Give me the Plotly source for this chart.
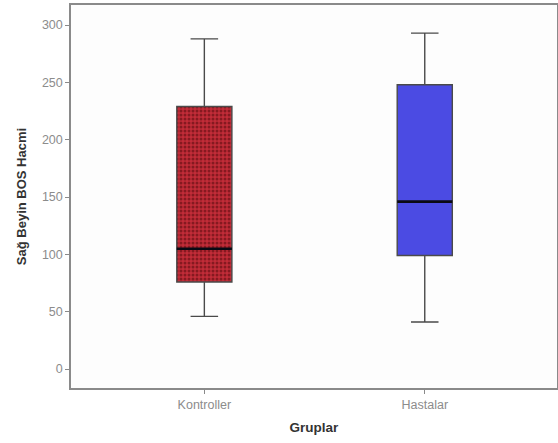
import plotly.graph_objects as go

groups = ["Kontroller", "Hastalar"]
q1 = [76, 99]
median = [105, 146]
q3 = [229, 248]
lower = [46, 41]
upper = [288, 293]
fills = ["#a8202c", "#4b4be3"]

xpos = list(range(len(groups)))
bw = 0.25

fig = go.Figure()

for i, g in enumerate(groups):
    if i == 0:
        fig.add_trace(go.Bar(
            x=[xpos[i]], y=[q3[i] - q1[i]], base=[q1[i]], width=bw,
            marker=dict(color="#c22c38",
                        pattern=dict(shape=".", fgcolor="#4a0508", bgcolor="#c22c38",
                                     size=4, solidity=0.45, fillmode="overlay"),
                        line=dict(width=0)),
            showlegend=False, hoverinfo="skip"))

for i, g in enumerate(groups):
    fig.add_trace(go.Box(
        x=[xpos[i]], q1=[q1[i]], median=[median[i]], q3=[q3[i]],
        lowerfence=[lower[i]], upperfence=[upper[i]],
        width=bw, whiskerwidth=0.5,
        fillcolor="rgba(0,0,0,0)" if i == 0 else fills[i],
        line=dict(color="#4a4a4a", width=1.4),
        boxpoints=False, showlegend=False, name=g, hoverinfo="skip"))

for i in range(len(groups)):
    fig.add_shape(type="line", xref="x", yref="y",
                  x0=xpos[i] - bw / 2, x1=xpos[i] + bw / 2,
                  y0=median[i], y1=median[i],
                  line=dict(color="#0a0a14", width=2.6))

fig.update_layout(
    width=558, height=443,
    margin=dict(l=71, r=1, t=5, b=55),
    paper_bgcolor="white", plot_bgcolor="#fdfdfd",
    barmode="overlay",
    font=dict(family="Liberation Sans, Arial, sans-serif"),
)
fig.update_xaxes(
    range=[-0.605, 1.6], tickvals=xpos, ticktext=groups, automargin=False,
    showgrid=False, zeroline=False,
    showline=True, linecolor="#8a8a8a", linewidth=1.5, mirror=True,
    ticks="outside", ticklen=4, tickcolor="#8a8a8a",
    tickfont=dict(size=12.5, color="#8c8c8c"),
    title=dict(text="<b>Gruplar</b>", font=dict(size=13.5, color="#333"), standoff=12),
)
fig.update_yaxes(
    range=[-16.5, 317.5], tickvals=[0, 50, 100, 150, 200, 250, 300], automargin=False,
    showgrid=False, zeroline=False,
    showline=True, linecolor="#8a8a8a", linewidth=1.5, mirror=True,
    ticks="outside", ticklen=4, tickcolor="#8a8a8a",
    tickfont=dict(size=12.5, color="#8c8c8c"),
    title=dict(text="<b>Sağ Beyin BOS Hacmi</b>", font=dict(size=13, color="#333"), standoff=12),
)

fig.write_html("out.html", config={"displayModeBar": False},
               post_script="document.body.style.margin='0';")
